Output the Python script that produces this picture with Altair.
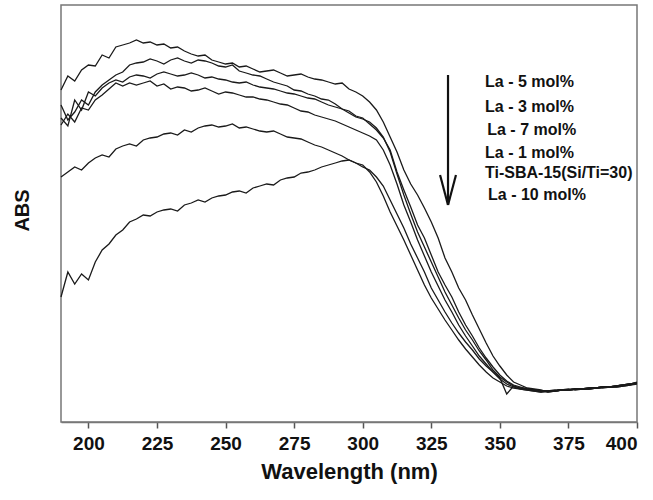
import altair as alt
import pandas as pd

# Wavelength grid (nm), 2.5 nm step
wavelength = [190 + 2.5 * i for i in range(85)]

# Absorbance (arbitrary units), including visible noise
la5 = [332, 346, 341, 352, 357, 356, 367, 364, 375, 377,
       379, 382, 379, 380, 377, 378, 374, 375, 371, 368,
       366, 367, 362, 360, 358, 359, 355, 356, 353, 350,
       351, 352, 349, 346, 347, 348, 345, 343, 342, 340,
       338, 339, 333, 330, 326, 320, 312, 300, 285, 270,
       252, 238, 227, 214, 200, 184, 164, 150, 134, 122,
       107, 93, 79, 66, 56, 47, 40, 37, 34, 33,
       32, 30, 31, 32, 32, 33, 33, 34, 34, 35,
       35, 36, 37, 38, 40]
la3 = [317, 302, 310, 322, 317, 330, 337, 342, 347, 350,
       357, 359, 360, 363, 361, 358, 362, 364, 361, 359,
       362, 361, 359, 356, 355, 357, 351, 349, 347, 346,
       343, 340, 338, 336, 332, 331, 328, 326, 323, 322,
       318, 313, 311, 306, 304, 298, 292, 284, 272, 250,
       232, 215, 197, 184, 167, 150, 137, 125, 110, 97,
       86, 74, 64, 55, 47, 41, 37, 35, 33, 32,
       31, 31, 32, 32, 33, 32, 33, 34, 34, 35,
       35, 36, 37, 38, 39]
la7 = [304, 296, 322, 312, 330, 326, 334, 339, 342, 340,
       345, 347, 346, 344, 348, 350, 348, 346, 347, 349,
       347, 344, 345, 343, 342, 340, 339, 340, 337, 335,
       334, 333, 331, 329, 328, 326, 324, 323, 320, 317,
       315, 313, 309, 305, 303, 300, 294, 285, 270, 248,
       227, 208, 190, 175, 160, 145, 130, 117, 104, 92,
       82, 71, 62, 52, 45, 40, 36, 34, 33, 32,
       31, 30, 31, 32, 32, 33, 33, 33, 34, 35,
       35, 36, 37, 38, 39]
la1 = [297, 308, 300, 314, 312, 322, 327, 333, 339, 336,
       339, 337, 339, 341, 336, 338, 333, 335, 334, 331,
       332, 334, 331, 328, 330, 329, 327, 325, 325, 323,
       322, 320, 318, 317, 314, 311, 310, 307, 305, 303,
       301, 298, 295, 292, 289, 286, 282, 272, 257, 238,
       217, 200, 182, 166, 150, 136, 122, 110, 97, 86,
       76, 66, 58, 50, 43, 38, 35, 33, 32, 31,
       30, 31, 31, 32, 32, 33, 33, 34, 34, 35,
       35, 35, 36, 37, 39]
tisba = [245, 250, 255, 252, 259, 264, 267, 265, 273, 276,
         278, 276, 282, 284, 285, 288, 289, 287, 292, 290,
         294, 296, 297, 295, 296, 298, 294, 295, 293, 291,
         290, 291, 288, 285, 284, 283, 280, 277, 275, 272,
         269, 266, 262, 259, 255, 252, 245, 236, 222, 208,
         194, 178, 164, 150, 134, 122, 110, 99, 89, 80,
         72, 63, 56, 50, 44, 28, 36, 34, 33, 32,
         31, 31, 31, 32, 32, 33, 33, 33, 34, 35,
         35, 36, 37, 38, 39]
la10 = [125, 150, 138, 148, 142, 160, 172, 178, 187, 192,
        200, 203, 207, 206, 210, 212, 213, 211, 217, 219,
        222, 220, 224, 226, 227, 230, 231, 229, 234, 236,
        238, 237, 242, 244, 245, 249, 250, 252, 255, 257,
        259, 261, 262, 259, 257, 250, 240, 226, 210, 196,
        182, 167, 152, 137, 124, 113, 102, 92, 82, 73,
        65, 57, 50, 44, 40, 36, 34, 33, 32, 31,
        30, 31, 31, 32, 32, 33, 33, 33, 34, 34,
        35, 35, 36, 37, 38]

series_names = ["La - 5 mol%", "La - 3 mol%", "La - 7 mol%", "La - 1 mol%",
                "Ti-SBA-15(Si/Ti=30)", "La - 10 mol%"]
series_values = [la5, la3, la7, la1, tisba, la10]

# Annotation text (legend list) positions in data units
label_x = [344.6, 344.6, 345.4, 344.6, 344.6, 345.7]
label_y = [340, 315, 292, 269, 249, 227]

# Arrow in data units
arrow_x = 331.1
arrow_top = 347
arrow_tip = 217
arrow_head_base = 247
arrow_head_half = 2.9

rows = []
for name, vals in zip(series_names, series_values):
    for w, v in zip(wavelength, vals):
        rows.append({"wl": w, "abs": v, "sample": name})
df = pd.DataFrame(rows)

x_scale = alt.Scale(domain=[190, 400], nice=False, zero=False)
y_scale = alt.Scale(domain=[0, 417], nice=False, zero=False)

FONT = "Liberation Sans"

lines = alt.Chart(df).mark_line(color="#1a1a1a", strokeWidth=1.3).encode(
    x=alt.X("wl:Q", scale=x_scale,
            axis=alt.Axis(values=list(range(200, 401, 25)), title="Wavelength (nm)",
                          labelFont=FONT, labelFontSize=19, labelFontWeight="bold",
                          labelColor="#111", tickColor="#555", tickSize=6, tickWidth=1.5,
                          domainColor="#777", domainWidth=1.5, grid=False,
                          labelPadding=6, titleFont=FONT, titleFontSize=22,
                          titleFontWeight="bold", titleColor="#111", titlePadding=8)),
    y=alt.Y("abs:Q", scale=y_scale,
            axis=alt.Axis(title="ABS", labels=False, ticks=False, domain=False, grid=False,
                          titleFont=FONT, titleFontSize=20, titleFontWeight="bold",
                          titleColor="#111", titleX=-39, titleY=205,
                          titleAngle=-90, titleBaseline="middle", titleAlign="center")),
    detail="sample:N",
    order="wl:Q",
)

lab_df = pd.DataFrame({"x": label_x, "y": label_y, "t": series_names})
labels = alt.Chart(lab_df).mark_text(
    align="left", baseline="middle", font=FONT, fontSize=16, fontWeight="bold", color="#111"
).encode(x=alt.X("x:Q", scale=x_scale), y=alt.Y("y:Q", scale=y_scale), text="t:N")

arrow_df = pd.DataFrame({
    "x": [arrow_x, arrow_x - arrow_head_half, arrow_x + arrow_head_half],
    "y": [arrow_top, arrow_head_base, arrow_head_base],
    "x2": [arrow_x, arrow_x, arrow_x],
    "y2": [arrow_tip, arrow_tip, arrow_tip],
})
arrow = alt.Chart(arrow_df).mark_rule(color="#111", strokeWidth=2.2).encode(
    x=alt.X("x:Q", scale=x_scale), y=alt.Y("y:Q", scale=y_scale),
    x2="x2:Q", y2="y2:Q")

chart = alt.layer(lines, labels, arrow).properties(
    width=576, height=417,
    autosize=alt.AutoSizeParams(type="none"),
    padding={"left": 61, "top": 5, "right": 16, "bottom": 78},
    background="white",
).configure_view(stroke="#777", strokeWidth=1.5)

chart.save("out.html", embed_options={"renderer": "svg", "actions": False})
